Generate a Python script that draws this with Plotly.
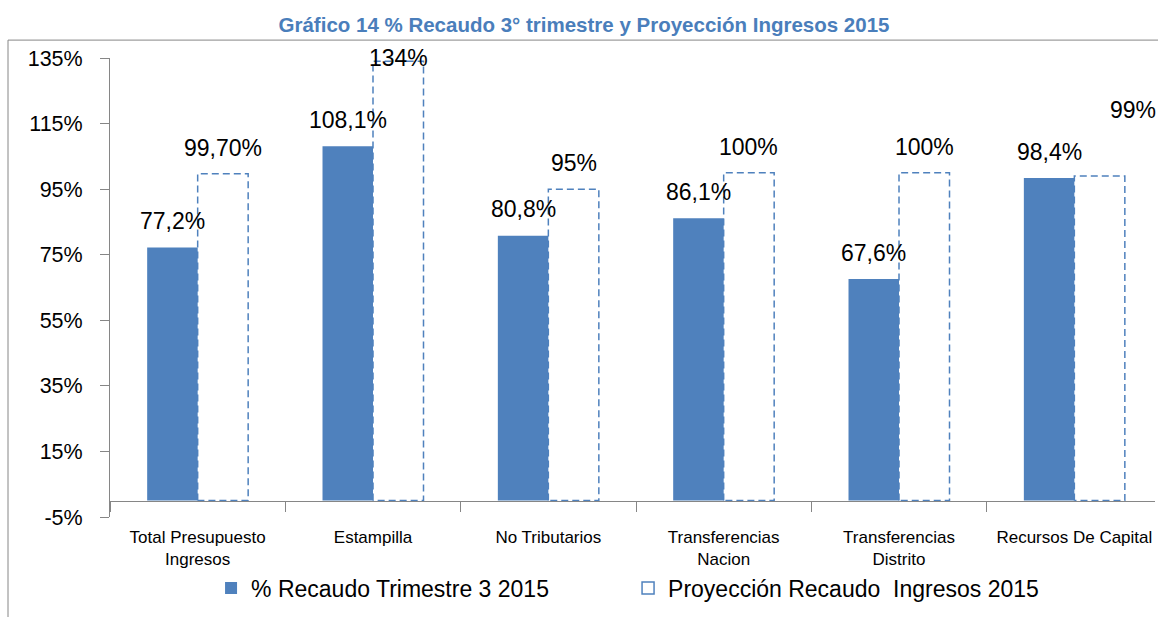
import plotly.graph_objects as go

categories = ["Total Presupuesto<br>Ingresos", "Estampilla", "No Tributarios",
              "Transferencias<br>Nacion", "Transferencias<br>Distrito", "Recursos De Capital"]
recaudo = [77.2, 108.1, 80.8, 86.1, 67.6, 98.4]
recaudo_labels = ["77,2%", "108,1%", "80,8%", "86,1%", "67,6%", "98,4%"]
proyeccion = [99.7, 134, 95, 100, 100, 99]
proyeccion_labels = ["99,70%", "134%", "95%", "100%", "100%", "99%"]
y_ticks = [-5, 15, 35, 55, 75, 95, 115, 135]

BLUE = "#4F81BD"
GRAY = "#868686"
FONT = "Liberation Sans, Arial, sans-serif"
W = 0.288
Y_MIN, Y_MAX = -5, 135
LABEL_GAP = 8      # label offset above bar, in axis units
CLASH_GAP = 12     # extra offset when the two labels of a category would collide

idx = list(range(len(categories)))

fig = go.Figure()

fig.add_trace(go.Bar(
    x=idx, y=recaudo, width=W, offset=-W, marker=dict(color=BLUE, line=dict(width=0)),
    name="% Recaudo Trimestre 3 2015", showlegend=True,
))

# dashed outlines for projection bars
xs, ys = [], []
for i, v in zip(idx, proyeccion):
    xs += [i, i, i + W, i + W, i, None]
    ys += [0, v, v, 0, 0, None]
fig.add_trace(go.Scatter(
    x=xs, y=ys, mode="lines", line=dict(color=BLUE, width=1.5, dash="7px,4px"),
    showlegend=False, hoverinfo="skip", cliponaxis=False,
))

# legend entry for projection
fig.add_trace(go.Bar(
    x=[None], y=[None], name="Proyección Recaudo  Ingresos 2015",
    marker=dict(color="white", line=dict(color=BLUE, width=1.5)),
))

# data labels
for i, v, t in zip(idx, recaudo, recaudo_labels):
    fig.add_annotation(x=i - W / 2, y=min(v + LABEL_GAP, Y_MAX), text=t, showarrow=False,
                       xanchor="center", yanchor="middle",
                       font=dict(size=23, color="black", family=FONT))
for i, v, r, t in zip(idx, proyeccion, recaudo, proyeccion_labels):
    clash = abs(v - r) < 5
    fig.add_annotation(x=i + W / 2, y=min(v + LABEL_GAP + (CLASH_GAP if clash else 0), Y_MAX),
                       text=t, showarrow=False, xanchor="center", yanchor="middle",
                       xshift=33 if clash else 0,
                       font=dict(size=23, color="black", family=FONT))

fig.update_layout(
    width=1158, height=617,
    margin=dict(l=110, r=3, t=58, b=100),
    paper_bgcolor="white", plot_bgcolor="white",
    barmode="overlay",
    font=dict(family=FONT, color="black"),
    title=dict(text="<b>Gráfico 14 % Recaudo 3° trimestre y Proyección Ingresos 2015</b>",
               x=0.4536, xref="paper", xanchor="center", y=1 - 25 / 617, yref="container",
               yanchor="middle",
               font=dict(size=20.5, color="#4A7EBB", family=FONT)),
    legend=dict(orientation="h", x=0.0967, xanchor="left", y=-0.1547, yanchor="middle",
                font=dict(size=23, family=FONT), itemwidth=30, entrywidth=372),
    showlegend=True,
)

fig.update_xaxes(
    range=[-0.5, 5.46], tickvals=idx, ticktext=categories, ticks="", showgrid=False,
    showline=True, linecolor=GRAY, linewidth=1, anchor="free", position=(0 - Y_MIN) / (Y_MAX - Y_MIN),
    tickfont=dict(size=17, family=FONT), ticklabelstandoff=21,
    minor=dict(tick0=-0.5, dtick=1, ticks="outside", ticklen=10, tickcolor=GRAY, tickwidth=1),
    zeroline=False, fixedrange=True,
)
fig.update_yaxes(
    range=[Y_MIN, Y_MAX], tickvals=y_ticks, ticktext=[f"{v}%" for v in y_ticks],
    ticks="outside", ticklen=9, tickcolor=GRAY, showgrid=False, zeroline=False,
    showline=True, linecolor=GRAY, linewidth=1, tickfont=dict(size=21.5, family=FONT),
    ticklabelstandoff=13,
)

fig.add_shape(type="rect", xref="paper", yref="paper", x0=-0.0976, x1=1.2, y0=-0.4, y1=1.039,
              line=dict(color=GRAY, width=1), fillcolor="rgba(0,0,0,0)", layer="below")

fig.write_html("out.html", config={"displayModeBar": False},
               post_script="document.body.style.margin='0';document.body.style.overflow='hidden';")
